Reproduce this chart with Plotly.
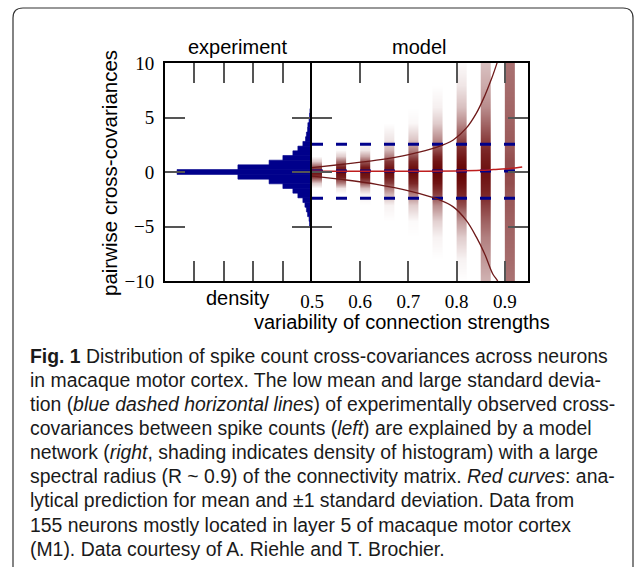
import plotly.graph_objects as go

# ---------------- data ----------------
# experiment histogram (left panel): bin centres of covariance and density
hist_cov = [-5.59, -5.16, -4.73, -4.30, -3.87, -3.44, -3.01, -2.58, -2.15, -1.72,
            -1.29, -0.86, -0.43, 0.00, 0.43, 0.86, 1.29, 1.72, 2.15, 2.58,
            3.01, 3.44, 3.87, 4.30, 4.73, 5.16, 5.59, 6.02, 6.45, 6.88]
hist_density = [0.034, 0.05, 0.085, 0.10, 0.15, 0.19, 0.24, 0.31, 0.48, 0.65,
                0.99, 1.46, 2.52, 4.59, 2.52, 1.46, 0.99, 0.65, 0.48, 0.31,
                0.22, 0.19, 0.15, 0.14, 0.10, 0.085, 0.07, 0.05, 0.034, 0.017]
hist_bin_width = 0.45

# model panel: shaded strips (density of histogram) at each connection-variability value
strip_left = [0.50, 0.55, 0.60, 0.65, 0.70, 0.75, 0.80, 0.85, 0.90]
strip_width = 0.02
strip_y = [-10, -8, -6, -4.5, -3, -2, -1.5, -1, -0.5, 0, 0.5, 1, 1.5, 2, 3, 4.5, 6, 8, 10]
strip_050 = [0, 0, 0, 0, 0, 0, 0, 0.2, 0.75, 0.95, 0.7, 0.2, 0, 0, 0, 0, 0, 0, 0]
strip_055 = [0, 0, 0, 0, 0, 0, 0.1, 0.5, 0.88, 0.95, 0.88, 0.55, 0.2, 0.02, 0, 0, 0, 0, 0]
strip_060 = [0, 0, 0, 0, 0, 0.05, 0.25, 0.65, 0.9, 0.95, 0.9, 0.65, 0.35, 0.1, 0, 0, 0, 0, 0]
strip_065 = [0, 0, 0, 0, 0.05, 0.3, 0.5, 0.75, 0.9, 0.95, 0.9, 0.78, 0.5, 0.3, 0.1, 0, 0, 0, 0]
strip_070 = [0, 0, 0, 0.02, 0.2, 0.5, 0.7, 0.85, 0.93, 0.97, 0.93, 0.85, 0.7, 0.5, 0.22, 0.03, 0, 0, 0]
strip_075 = [0, 0, 0.05, 0.18, 0.45, 0.75, 0.85, 0.92, 0.96, 0.98, 0.96, 0.92, 0.85, 0.72, 0.45, 0.2, 0.06, 0, 0]
strip_080 = [0, 0.05, 0.2, 0.4, 0.7, 0.85, 0.9, 0.94, 0.97, 0.98, 0.97, 0.94, 0.9, 0.85, 0.72, 0.45, 0.25, 0.1, 0.02]
strip_085 = [0.3, 0.4, 0.5, 0.62, 0.75, 0.85, 0.88, 0.9, 0.92, 0.93, 0.92, 0.9, 0.88, 0.85, 0.75, 0.6, 0.45, 0.33, 0.25]
strip_090 = [0.55, 0.58, 0.6, 0.62, 0.65, 0.66, 0.68, 0.7, 0.7, 0.72, 0.7, 0.7, 0.68, 0.66, 0.64, 0.62, 0.6, 0.58, 0.56]
strip_profiles = [strip_050, strip_055, strip_060, strip_065, strip_070,
                  strip_075, strip_080, strip_085, strip_090]

# analytical prediction (red curves)
mean_x = [0.50, 0.60, 0.70, 0.80, 0.85, 0.876, 0.91, 0.936]
mean_y = [0.06, 0.06, 0.07, 0.10, 0.15, 0.22, 0.31, 0.46]
upper_x = [0.50, 0.565, 0.634, 0.703, 0.758, 0.793, 0.820, 0.841, 0.858, 0.872, 0.883, 0.888]
upper_y = [0.40, 0.71, 1.08, 1.62, 2.26, 2.94, 4.02, 5.40, 6.96, 8.50, 9.90, 10.6]
lower_x = [0.50, 0.565, 0.634, 0.703, 0.758, 0.793, 0.820, 0.841, 0.858, 0.875, 0.885, 0.889]
lower_y = [-0.38, -0.70, -1.13, -1.75, -2.45, -3.20, -4.44, -5.98, -7.50, -9.36, -10.0, -10.5]

# experimental mean and +/- 1 std (blue dashed)
exp_lines_y = [2.55, 0.09, -2.40]
exp_lines_x = [0.50, 0.928]

# tick labels
y_tickvals = [-10, -5, 0, 5, 10]
y_ticktext = ["\u221210", "\u22125", "0", "5", "10"]
x2_tickvals = [0.5, 0.6, 0.7, 0.8, 0.9]
x2_ticktext = ["0.5", "0.6", "0.7", "0.8", "0.9"]
dens_tickvals = [1, 2, 3, 4]

caption_lines = [
    "<b>Fig. 1</b> Distribution of spike count cross-covariances across neurons",
    "in macaque motor cortex. The low mean and large standard devia-",
    "tion (<i>blue dashed horizontal lines</i>) of experimentally observed cross-",
    "covariances between spike counts (<i>left</i>) are explained by a model",
    "network (<i>right</i>, shading indicates density of histogram) with a large",
    "spectral radius (R ~ 0.9) of the connectivity matrix. <i>Red curves</i>: ana-",
    "lytical prediction for mean and \u00b11 standard deviation. Data from",
    "155 neurons mostly located in layer 5 of macaque motor cortex",
    "(M1). Data courtesy of A. Riehle and T. Brochier.",
]

# ---------------- layout helpers ----------------
W, H = 634, 567
def px(x):
    return x / W
def py(y):
    return 1 - y / H

BLUE = "#00008b"
DARKRED = "rgb(100,0,0)"
SANS = "Liberation Sans"
SERIF = "Liberation Serif"

fig = go.Figure()

# strips (heatmaps)
for left, prof in zip(strip_left, strip_profiles):
    fig.add_trace(go.Heatmap(
        x=[left, left + strip_width / 2, left + strip_width],
        y=strip_y,
        z=[[v, v] for v in prof],
        zmin=0, zmax=1, zsmooth="best",
        colorscale=[[0, "rgb(255,255,255)"], [1, DARKRED]],
        showscale=False, hoverinfo="skip",
        xaxis="x2", yaxis="y2",
    ))

# experiment histogram
fig.add_trace(go.Bar(
    x=hist_density, y=hist_cov, orientation="h", width=hist_bin_width,
    marker=dict(color=BLUE, line=dict(width=0.6, color=BLUE)),
    xaxis="x", yaxis="y", hoverinfo="skip",
))

# blue dashed lines
for yv in exp_lines_y:
    fig.add_trace(go.Scatter(
        x=exp_lines_x, y=[yv, yv], mode="lines",
        line=dict(color=BLUE, width=3, dash="11px,13px"),
        xaxis="x2", yaxis="y2", hoverinfo="skip",
    ))

# red curves
fig.add_trace(go.Scatter(x=upper_x, y=upper_y, mode="lines",
                         line=dict(color="rgb(110,25,25)", width=1.3, shape="spline"),
                         xaxis="x2", yaxis="y2", hoverinfo="skip"))
fig.add_trace(go.Scatter(x=lower_x, y=lower_y, mode="lines",
                         line=dict(color="rgb(110,25,25)", width=1.3, shape="spline"),
                         xaxis="x2", yaxis="y2", hoverinfo="skip"))
fig.add_trace(go.Scatter(x=mean_x, y=mean_y, mode="lines",
                         line=dict(color="rgb(190,30,30)", width=1.5, shape="spline"),
                         xaxis="x2", yaxis="y2", hoverinfo="skip"))

axis_common = dict(showline=True, linecolor="black", linewidth=2, mirror="ticks",
                   ticks="inside", ticklen=20, tickwidth=1.5, tickcolor="#555",
                   showgrid=False, zeroline=False, automargin=False)

ydom = [py(281), py(63)]
fig.update_layout(
    template="none",
    width=W, height=H,
    margin=dict(l=0, r=0, t=0, b=0, pad=0, autoexpand=False),
    paper_bgcolor="white", plot_bgcolor="white",
    showlegend=False,
    xaxis=dict(domain=[px(165), px(312)], range=[5, 0], tickvals=dens_tickvals,
               showticklabels=False, anchor="y", **axis_common),
    yaxis=dict(domain=ydom, range=[-10, 10], tickvals=y_tickvals, ticktext=y_ticktext,
               tickfont=dict(family=SERIF, size=19, color="black"),
               ticklabelstandoff=5, anchor="x", **axis_common),
    xaxis2=dict(domain=[px(312), px(527.5)], range=[0.5, 0.947], tickvals=x2_tickvals,
                ticktext=x2_ticktext, tickfont=dict(family=SERIF, size=19, color="black"),
                ticklabelstandoff=2, anchor="y2", **axis_common),
    yaxis2=dict(domain=ydom, range=[-10, 10], tickvals=y_tickvals, showticklabels=False,
                anchor="x2", matches="y", **axis_common),
)

ann = []
def label(text, x, y, size=20, angle=0, xanchor="center", family=SANS):
    ann.append(dict(text=text, x=px(x), y=py(y), xref="paper", yref="paper",
                    showarrow=False, xanchor=xanchor, yanchor="middle", textangle=angle,
                    font=dict(family=family, size=size, color="black")))

label("experiment", 237, 47)
label("model", 419, 47)
label("density", 237, 298)
label("variability of connection strengths", 402, 322)
label("pairwise cross-covariances", 110, 173, size=20.5, angle=-90)

for i, line in enumerate(caption_lines):
    baseline = 362.3 + 24.1 * i
    ann.append(dict(text=line, x=px(28), y=py(baseline - 6.5), xref="paper", yref="paper",
                    showarrow=False, xanchor="left", yanchor="middle",
                    font=dict(family=SANS, size=19.4, color="#1a1a1a")))

fig.update_layout(annotations=ann)

# rounded border
path = (f"M {px(13)},{py(567)} L {px(13)},{py(18)} Q {px(13)},{py(8)} {px(23)},{py(8)} "
        f"L {px(623)},{py(8)} Q {px(633)},{py(8)} {px(633)},{py(18)} L {px(633)},{py(567)}")
fig.add_shape(type="path", path=path, xref="paper", yref="paper",
              line=dict(color="#333", width=1.2))

fig.write_html("out.html")
